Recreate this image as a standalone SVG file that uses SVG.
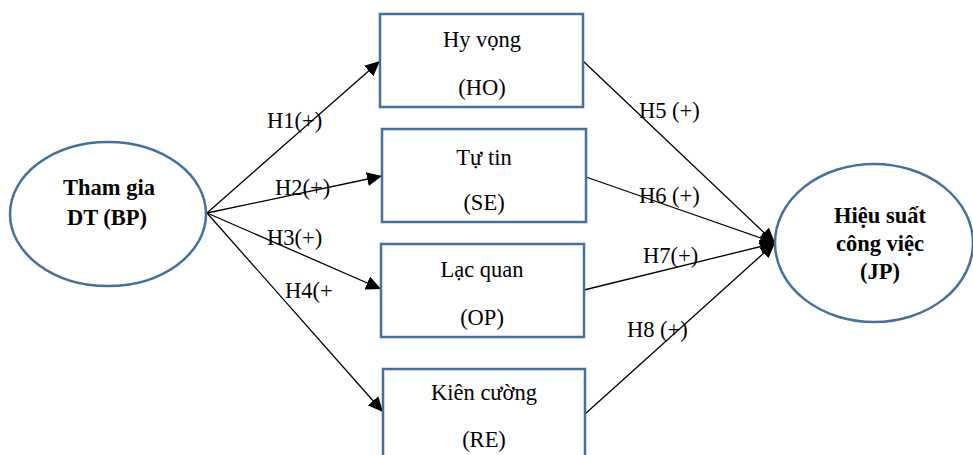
<svg xmlns="http://www.w3.org/2000/svg" width="973" height="455" viewBox="0 0 973 455">
<defs>
<marker id="arr" markerUnits="userSpaceOnUse" markerWidth="16" markerHeight="14" refX="15" refY="7" orient="auto">
<path d="M0,0 L15,7 L0,14 Z" fill="#000"/>
</marker>
<style>
.node{fill:#fff;stroke:#41719C;stroke-width:2.5}
.t{font-family:'Liberation Serif','Times New Roman',serif;font-size:22.5px;fill:#000;text-anchor:middle}
.b{font-weight:bold}
.lbl{font-family:'Liberation Serif','Times New Roman',serif;font-size:22.5px;fill:#000}
.c{stroke:#000;stroke-width:1.3;fill:none;marker-end:url(#arr)}
</style>
</defs>
<rect width="973" height="455" fill="#fff"/>
<g id="connectors">
<line class="c" x1="207" y1="213" x2="380" y2="61"/>
<line class="c" x1="207" y1="213" x2="382" y2="176"/>
<line class="c" x1="207" y1="213" x2="381" y2="289"/>
<line class="c" x1="207" y1="213" x2="383" y2="412"/>
<line class="c" x1="583" y1="61" x2="775" y2="243"/>
<line class="c" x1="586" y1="177" x2="775" y2="243"/>
<line class="c" x1="584" y1="290" x2="775" y2="243"/>
<line class="c" x1="585" y1="414" x2="775" y2="243"/>
</g>
<g id="BP">
<ellipse class="node" cx="108" cy="214" rx="98" ry="72"/>
<text class="t b" x="109" y="195">Tham gia</text>
<text class="t b" x="107" y="225">DT (BP)</text>
</g>
<g id="JP">
<ellipse class="node" cx="874" cy="243" rx="99" ry="79"/>
<text class="t b" x="880" y="223">Hiệu suất</text>
<text class="t b" x="880" y="251">công việc</text>
<text class="t b" x="880" y="279">(JP)</text>
</g>
<g id="HO">
<rect class="node" x="380" y="14" width="203" height="93"/>
<text class="t" x="482" y="47">Hy vọng</text>
<text class="t" x="482" y="95">(HO)</text>
</g>
<g id="SE">
<rect class="node" x="382" y="129" width="204" height="93"/>
<text class="t" x="484" y="165">Tự tin</text>
<text class="t" x="484" y="210">(SE)</text>
</g>
<g id="OP">
<rect class="node" x="381" y="244" width="203" height="93"/>
<text class="t" x="482" y="277">Lạc quan</text>
<text class="t" x="482" y="325">(OP)</text>
</g>
<g id="RE">
<rect class="node" x="383" y="369" width="202" height="95"/>
<text class="t" x="484" y="400">Kiên cường</text>
<text class="t" x="484" y="447">(RE)</text>
</g>
<g id="labels">
<text class="lbl" x="267" y="128">H1(+)</text>
<text class="lbl" x="275" y="195">H2(+)</text>
<text class="lbl" x="267" y="245">H3(+)</text>
<text class="lbl" x="285" y="298">H4(+</text>
<text class="lbl" x="639" y="118">H5 (+)</text>
<text class="lbl" x="639" y="203">H6 (+)</text>
<text class="lbl" x="643" y="263">H7(+)</text>
<text class="lbl" x="627" y="337">H8 (+)</text>
</g>
</svg>
